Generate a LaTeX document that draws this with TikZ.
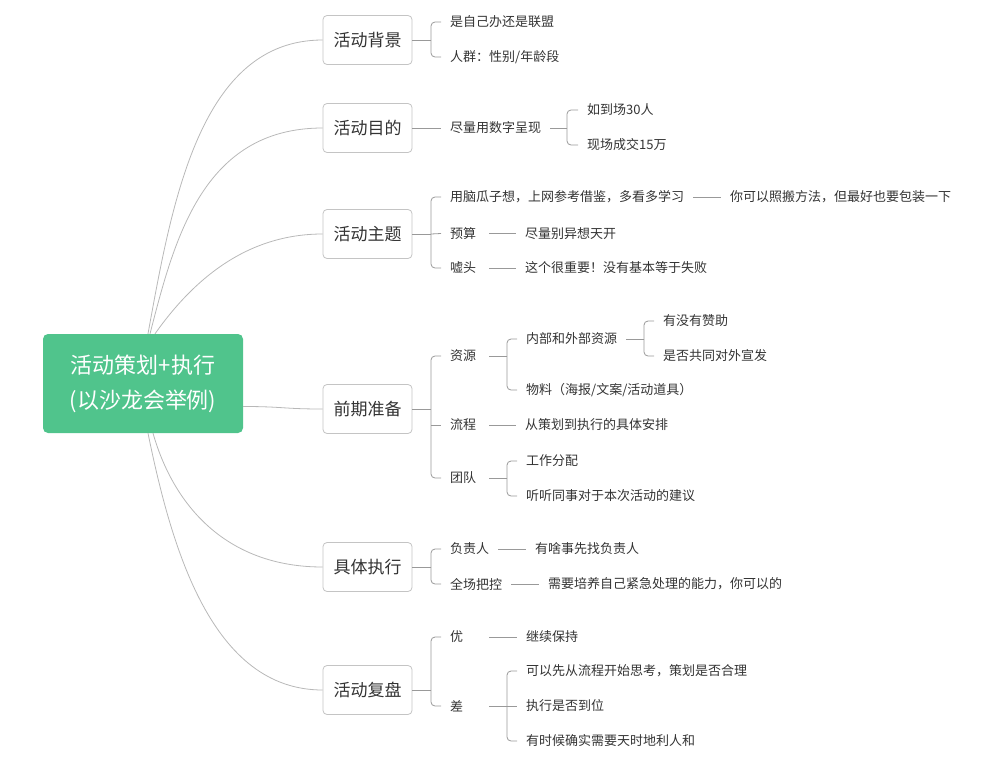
\documentclass[tikz,border=0pt]{standalone}
\usepackage{fontspec}
\setmainfont{Noto Sans CJK SC}
\definecolor{rootg}{HTML}{50C48C}
\definecolor{boxc}{HTML}{C4C4C4}
\definecolor{cvc}{HTML}{B8B8B8}
\definecolor{brc}{HTML}{999999}
\definecolor{txt}{HTML}{333333}
\newcommand\shortlbl[1]{\makebox[30pt][l]{#1}}
\begin{document}
\begin{tikzpicture}[x=1pt,y=-1pt,
  main/.style={draw=boxc, line width=0.8pt, fill=white, rounded corners=4pt,
    minimum width=89pt, minimum height=49pt, inner sep=0pt, text=txt,
    font=\fontsize{17}{20}\selectfont},
  lbl/.style={anchor=west, inner xsep=9pt, inner ysep=1pt, text=txt,
    font=\fontsize{13}{16}\selectfont},
  br/.style={draw=brc, line width=0.8pt, rounded corners=4pt},
  ln/.style={draw=brc, line width=0.8pt},
  cv/.style={draw=cvc, line width=0.8pt}]
\useasboundingbox (0,0) rectangle (997,766);

% root
\node[fill=rootg, rounded corners=5pt, minimum width=200pt, minimum height=99pt,
  inner sep=0pt, text=white, align=center, font=\fontsize{22}{35}\selectfont]
  (root) at (143,383.5) {活动策划+执行\\(以沙龙会举例)};

% main topics
\node[main] (bg) at (367.5,40) {活动背景};
\node[main] (md) at (367.5,128) {活动目的};
\node[main] (zt) at (367.5,234) {活动主题};
\node[main] (qq) at (367.5,409) {前期准备};
\node[main] (zx) at (367.5,567) {具体执行};
\node[main] (fp) at (367.5,690) {活动复盘};

% curves from root
\draw[cv] ([xshift=5pt]root.north) .. controls (172,202) and (200,40) .. (bg.west);
\draw[cv] ([xshift=7pt]root.north) .. controls (174,241) and (202,128) .. (md.west);
\draw[cv] ([xshift=12pt]root.north) .. controls (200,270) and (255,234) .. (zt.west);
\draw[cv] ([yshift=-23pt]root.east) .. controls (283,406.5) and (283,409) .. (qq.west);
\draw[cv] ([xshift=10pt]root.south) .. controls (175,510) and (230,567) .. (zx.west);
\draw[cv] ([xshift=5pt]root.south) .. controls (171.6,548.7) and (212,690) .. (fp.west);

% ---------- 活动背景
\node[lbl] (bg1) at (441,22) {是自己办还是联盟};
\node[lbl] (bg2) at (441,57) {人群：性别/年龄段};
\coordinate (bgB) at (431,40);
\draw[ln] (bg.east) -- (bgB);
\draw[br] (bgB) |- (bg1.west);
\draw[br] (bgB) |- (bg2.west);

% ---------- 活动目的
\node[lbl] (md1) at (441,128) {尽量用数字呈现};
\draw[ln] (md.east) -- (md1.west);
\node[lbl] (md1a) at (578,110) {如到场30人};
\node[lbl] (md1b) at (578,145) {现场成交15万};
\coordinate (md1B) at (567,128);
\draw[ln] (md1.east) -- (md1B);
\draw[br] (md1B) |- (md1a.west);
\draw[br] (md1B) |- (md1b.west);

% ---------- 活动主题
\node[lbl] (zt1) at (441,197) {用脑瓜子想，上网参考借鉴，多看多学习};
\node[lbl] (zt2) at (441,233.5) {\shortlbl{预算}};
\node[lbl] (zt3) at (441,268) {\shortlbl{嘘头}};
\coordinate (ztB) at (431,234);
\draw[ln] (zt.east) -- (ztB);
\draw[br] (ztB) |- (zt1.west);
\draw[ln] (ztB) -- (zt2.west);
\draw[br] (ztB) |- (zt3.west);
\node[lbl] (zt1n) at (721,197) {你可以照搬方法，但最好也要包装一下};
\node[lbl] (zt2n) at (516,233.5) {尽量别异想天开};
\node[lbl] (zt3n) at (516,268) {这个很重要！没有基本等于失败};
\draw[ln] (zt1.east) -- (zt1n.west);
\draw[ln] (zt2.east) -- (zt2n.west);
\draw[ln] (zt3.east) -- (zt3n.west);

% ---------- 前期准备
\node[lbl] (qq1) at (441,356) {\shortlbl{资源}};
\node[lbl] (qq2) at (441,425) {\shortlbl{流程}};
\node[lbl] (qq3) at (441,478) {\shortlbl{团队}};
\coordinate (qqB) at (431,409);
\draw[ln] (qq.east) -- (qqB);
\draw[br] (qqB) |- (qq1.west);
\draw[br] (qqB) |- (qq3.west);
\draw[ln] (qqB |- qq2.west) -- (qq2.west);
% 资源
\node[lbl] (qq1a) at (517,339) {内部和外部资源};
\node[lbl] (qq1b) at (517,390) {物料（海报/文案/活动道具）};
\coordinate (qq1B) at (507,356);
\draw[ln] (qq1.east) -- (qq1B);
\draw[br] (qq1B) |- (qq1a.west);
\draw[br] (qq1B) |- (qq1b.west);
\node[lbl] (qq1a1) at (654,321) {有没有赞助};
\node[lbl] (qq1a2) at (654,356) {是否共同对外宣发};
\coordinate (qq1aB) at (644,339);
\draw[ln] (qq1a.east) -- (qq1aB);
\draw[br] (qq1aB) |- (qq1a1.west);
\draw[br] (qq1aB) |- (qq1a2.west);
% 流程
\node[lbl] (qq2n) at (516,425) {从策划到执行的具体安排};
\draw[ln] (qq2.east) -- (qq2n.west);
% 团队
\node[lbl] (qq3a) at (517,461) {工作分配};
\node[lbl] (qq3b) at (517,496) {听听同事对于本次活动的建议};
\coordinate (qq3B) at (507,478);
\draw[ln] (qq3.east) -- (qq3B);
\draw[br] (qq3B) |- (qq3a.west);
\draw[br] (qq3B) |- (qq3b.west);

% ---------- 具体执行
\node[lbl] (zx1) at (441,549) {负责人};
\node[lbl] (zx2) at (441,584) {全场把控};
\coordinate (zxB) at (431,567);
\draw[ln] (zx.east) -- (zxB);
\draw[br] (zxB) |- (zx1.west);
\draw[br] (zxB) |- (zx2.west);
\node[lbl] (zx1n) at (526,549) {有啥事先找负责人};
\node[lbl] (zx2n) at (539,584) {需要培养自己紧急处理的能力，你可以的};
\draw[ln] (zx1.east) -- (zx1n.west);
\draw[ln] (zx2.east) -- (zx2n.west);

% ---------- 活动复盘
\node[lbl] (fp1) at (441,637) {\shortlbl{优}};
\node[lbl] (fp2) at (441,706) {\shortlbl{差}};
\coordinate (fpB) at (431,690);
\draw[ln] (fp.east) -- (fpB);
\draw[br] (fpB) |- (fp1.west);
\draw[br] (fpB) |- (fp2.west);
\node[lbl] (fp1n) at (517,637) {继续保持};
\draw[ln] (fp1.east) -- (fp1n.west);
\node[lbl] (fp2a) at (517,671) {可以先从流程开始思考，策划是否合理};
\node[lbl] (fp2b) at (517,706) {执行是否到位};
\node[lbl] (fp2c) at (517,741) {有时候确实需要天时地利人和};
\coordinate (fp2B) at (507,706);
\draw[ln] (fp2.east) -- (fp2B);
\draw[br] (fp2B) |- (fp2a.west);
\draw[ln] (fp2B) -- (fp2b.west);
\draw[br] (fp2B) |- (fp2c.west);
\end{tikzpicture}
\end{document}
